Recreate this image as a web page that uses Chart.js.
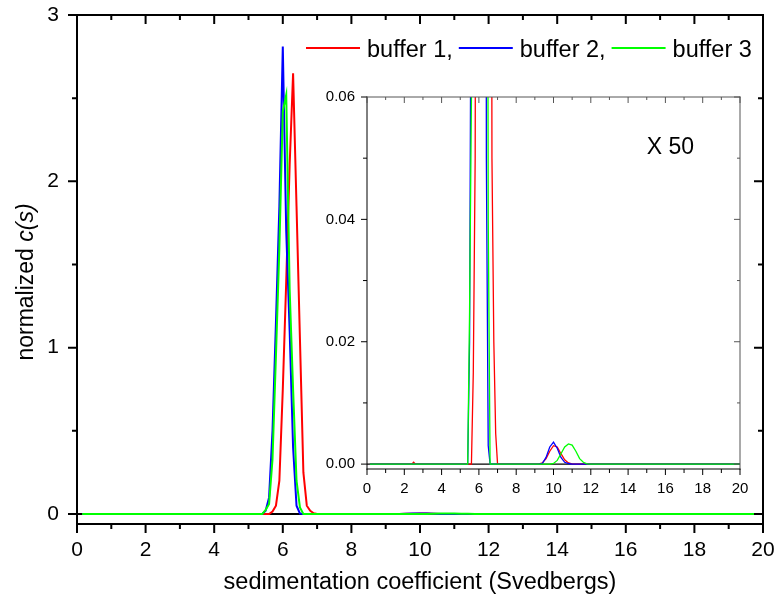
<!DOCTYPE html>
<html>
<head>
<meta charset="utf-8">
<script src="https://cdn.jsdelivr.net/npm/chart.js@4.4.1/dist/chart.umd.min.js"></script>
<style>
  html, body { margin: 0; padding: 0; background: #fff; }
  #wrap { position: relative; width: 775px; height: 603px; }
  #mainChart { position: absolute; left: 0; top: 0; }
  #insetChart { position: absolute; left: 300px; top: 80px; }
</style>
</head>
<body>
<div id="wrap">
  <canvas id="mainChart" width="775" height="603"></canvas>
  <canvas id="insetChart" width="460" height="420"></canvas>
</div>
<script>
const FONT = "'Liberation Sans', Arial, sans-serif";
Chart.defaults.font.family = FONT;
Chart.defaults.color = '#000';

// sedimentation coefficient grid (S), shared by the three buffers
const sGrid = [0.15, 2.4, 2.5, 2.6,
  5.3, 5.4, 5.5, 5.6, 5.7, 5.8, 5.9, 6.0, 6.1, 6.2, 6.3, 6.4, 6.5, 6.6, 6.7, 6.8, 6.9, 7.0,
  9.2, 9.4, 9.6, 9.8, 10.0, 10.2, 10.4, 10.6, 10.8, 11.0, 11.2, 11.4, 11.6, 11.8, 12.0, 20];

// normalized c(s) for each buffer
const buffer1 = [0, 0, 0.0003, 0,
  0, 0, 0, 0, 0.015, 0.05, 0.2, 0.75, 1.4, 2.1, 2.65, 1.85, 1.05, 0.25, 0.05, 0.02, 0.005, 0,
  0, 0.0002, 0.0009, 0.0021, 0.003, 0.0028, 0.0017, 0.0007, 0.0002, 0.00005, 0, 0, 0, 0, 0, 0];
const buffer2 = [0, 0, 0, 0,
  0, 0, 0.02, 0.1, 0.5, 1.15, 1.85, 2.81, 1.7, 1.1, 0.4, 0.05, 0.003, 0, 0, 0, 0, 0,
  0, 0.0001, 0.0011, 0.0028, 0.0036, 0.0026, 0.0011, 0.0003, 0.0001, 0, 0, 0, 0, 0, 0, 0];
const buffer3 = [0, 0, 0, 0,
  0, 0, 0.025, 0.06, 0.33, 0.95, 1.6, 2.42, 2.52, 1.35, 0.75, 0.2, 0.04, 0, 0, 0, 0, 0,
  0, 0, 0, 0, 0.0001, 0.0006, 0.0017, 0.0028, 0.0033, 0.0031, 0.0021, 0.0009, 0.0003, 0.00005, 0, 0];

// zero line underneath the curves
const baselineS = [0, 20];
const baselineC = [0, 0];

const seriesLabels = ['buffer 1,', 'buffer 2,', 'buffer 3'];
const seriesColors = ['#ff0000', '#0000ff', '#00ff00'];

// axis ticks
const sTicks = [0, 2, 4, 6, 8, 10, 12, 14, 16, 18, 20];
const sMinorTicks = [1, 3, 5, 7, 9, 11, 13, 15, 17, 19];
const cTicks = [0, 1, 2, 3];
const cMinorTicks = [0.5, 1.5, 2.5];
const zoomTicks = [0, 0.02, 0.04, 0.06];
const zoomMinorTicks = [0.01, 0.03, 0.05];

const yTitleParts = [{ text: 'normalized ', italic: false }, { text: 'c(s)', italic: true }];
const zoomNote = { text: 'X 50', s: 15.0, c: 0.0507 };

const pts = (xs, ys) => xs.map((s, i) => ({ x: s, y: ys[i] }));

function makeDatasets(width) {
  const sets = [buffer1, buffer2, buffer3].map((vals, i) => ({
    label: seriesLabels[i],
    data: pts(sGrid, vals),
    borderColor: seriesColors[i],
    borderWidth: width,
    order: 3 - i          // green ends up on top
  }));
  sets.push({ label: '', data: pts(baselineS, baselineC), borderColor: '#000', borderWidth: width, order: 4 });
  return sets;
}

// labels must be strings, numbers throw the left-axis alignment off
function linearAxis(min, max, ticks, fmt, size, pad, fit) {
  return {
    type: 'linear', min, max,
    grid: { display: false, drawTicks: false },
    border: { display: false },
    ticks: { font: { size }, padding: pad, callback: v => String(fmt(v)), autoSkip: false, maxRotation: 0 },
    afterBuildTicks: sc => { sc.ticks = ticks.map(v => ({ value: v })); },
    afterFit: sc => {
      fit(sc);
      sc.paddingTop = sc.paddingBottom = sc.paddingLeft = sc.paddingRight = 0;
    }
  };
}

// box around the plot with major/minor tick marks on every side
function framePlugin(cfg) {
  return {
    id: 'frame',
    afterDatasetsDraw(chart) {
      const { ctx, chartArea: a } = chart;
      ctx.save();
      ['left', 'right', 'top', 'bottom'].forEach(side => {
        const s = cfg[side];
        const horiz = side === 'top' || side === 'bottom';
        const scale = horiz ? chart.scales.x : chart.scales.y;
        const major = horiz ? sTicks : cfg.yMajor;
        const minor = horiz ? sMinorTicks : cfg.yMinor;
        const edge = a[side];
        const out = (side === 'bottom' || side === 'right') ? 1 : -1;
        const dir = s.inward ? -out : out;
        ctx.strokeStyle = s.color;
        ctx.lineWidth = s.width;
        ctx.lineCap = 'square';
        ctx.beginPath();
        if (horiz) { ctx.moveTo(a.left, edge); ctx.lineTo(a.right, edge); }
        else { ctx.moveTo(edge, a.top); ctx.lineTo(edge, a.bottom); }
        ctx.stroke();
        ctx.lineCap = 'butt';
        ctx.beginPath();
        [[major, s.major], [minor, s.minor]].forEach(([vals, len]) => vals.forEach(v => {
          const p = scale.getPixelForValue(v);
          if (horiz) { ctx.moveTo(p, edge); ctx.lineTo(p, edge + dir * len); }
          else { ctx.moveTo(edge, p); ctx.lineTo(edge + dir * len, p); }
        }));
        ctx.stroke();
      });
      ctx.restore();
    }
  };
}

const mainDecor = {
  id: 'mainDecor',
  afterDraw(chart) {
    const ctx = chart.ctx;
    ctx.save();
    // y axis title with italic c(s)
    const size = 23;
    ctx.translate(33, 282);
    ctx.rotate(-Math.PI / 2);
    ctx.textBaseline = 'alphabetic';
    ctx.fillStyle = '#000';
    const fonts = yTitleParts.map(p => `${p.italic ? 'italic ' : ''}${size}px ${FONT}`);
    let total = 0;
    const widths = yTitleParts.map((p, i) => { ctx.font = fonts[i]; const w = ctx.measureText(p.text).width; total += w; return w; });
    let cx = -total / 2;
    yTitleParts.forEach((p, i) => { ctx.font = fonts[i]; ctx.fillText(p.text, cx, 0); cx += widths[i]; });
    ctx.restore();

    // legend row
    ctx.save();
    ctx.font = `23.5px ${FONT}`;
    ctx.textBaseline = 'alphabetic';
    let x = 306;
    const y = 48;
    chart.data.datasets.filter(d => d.label).forEach(d => {
      ctx.strokeStyle = d.borderColor;
      ctx.lineWidth = 2;
      ctx.beginPath(); ctx.moveTo(x, y); ctx.lineTo(x + 54, y); ctx.stroke();
      x += 61;
      ctx.fillStyle = '#000';
      ctx.fillText(d.label, x, 57);
      x += ctx.measureText(d.label).width + 6;
    });
    ctx.restore();
  }
};

const insetDecor = {
  id: 'insetDecor',
  afterDraw(chart) {
    const { ctx, scales: { x, y } } = chart;
    ctx.save();
    ctx.font = `23px ${FONT}`;
    ctx.fillStyle = '#000';
    ctx.fillText(zoomNote.text, x.getPixelForValue(zoomNote.s), y.getPixelForValue(zoomNote.c));
    ctx.restore();
  }
};

const thick = { color: '#000', width: 2, major: 9, minor: 5 };

new Chart(document.getElementById('mainChart'), {
  type: 'line',
  data: { datasets: makeDatasets(2) },
  options: {
    responsive: false,
    animation: false,
    layout: { autoPadding: false, padding: { top: 15, right: 12, left: 0, bottom: 0 } },
    elements: { point: { radius: 0 }, line: { tension: 0 } },
    plugins: { legend: { display: false }, tooltip: { enabled: false } },
    scales: {
      x: Object.assign(linearAxis(0, 20, sTicks, v => v, 21, 14, sc => { sc.height = 79; }), {
        title: { display: true, text: 'sedimentation coefficient (Svedbergs)', font: { size: 23.5 }, padding: { top: 0, bottom: 6 } }
      }),
      y: linearAxis(-0.06, 3, cTicks, v => v, 21, 18, sc => { sc.width = 77; })
    }
  },
  plugins: [framePlugin({
    yMajor: cTicks, yMinor: cMinorTicks,
    left: thick, bottom: thick,
    top: Object.assign({}, thick, { inward: true }),
    right: Object.assign({}, thick, { inward: true })
  }), mainDecor]
});

const thin = { color: '#000', width: 1, major: 6, minor: 4 };
const thinGrey = { color: '#555', width: 1, major: 6, minor: 3, inward: true };

new Chart(document.getElementById('insetChart'), {
  type: 'line',
  data: { datasets: makeDatasets(1.3) },
  options: {
    responsive: false,
    animation: false,
    layout: { autoPadding: false, padding: { top: 17, right: 20, left: 0, bottom: 0 } },
    elements: { point: { radius: 0 }, line: { tension: 0 } },
    plugins: { legend: { display: false }, tooltip: { enabled: false } },
    scales: {
      x: linearAxis(0, 20, sTicks, v => v, 15, 11, sc => { sc.height = 31; }),
      y: linearAxis(-0.0008, 0.06, zoomTicks, v => v.toFixed(2), 15, 12, sc => { sc.width = 67; })
    }
  },
  plugins: [framePlugin({
    yMajor: zoomTicks, yMinor: zoomMinorTicks,
    left: thin, bottom: thin, top: thinGrey, right: thinGrey
  }), insetDecor]
});
</script>
</body>
</html>
